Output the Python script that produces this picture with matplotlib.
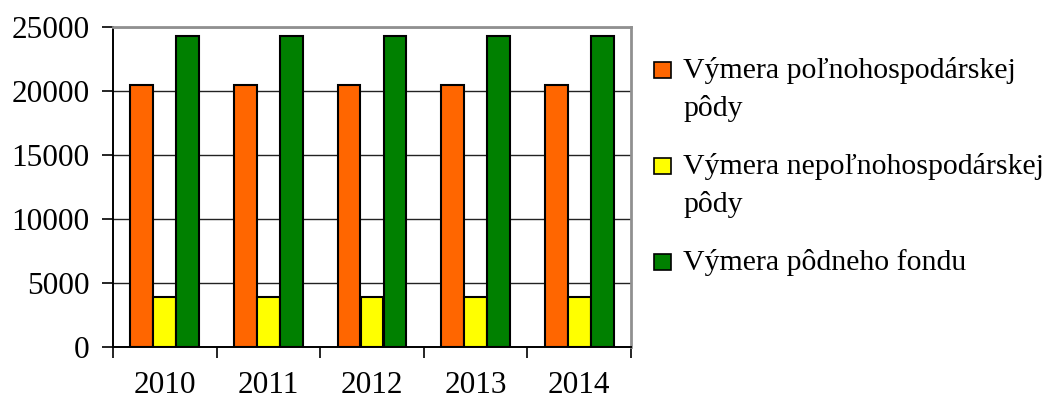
import matplotlib.pyplot as plt
from matplotlib.patches import Rectangle
import numpy as np

plt.rcParams['font.family'] = ['Liberation Serif', 'DejaVu Serif']

years = ["2010", "2011", "2012", "2013", "2014"]
series_names = [
    "Výmera poľnohospodárskej\npôdy",
    "Výmera nepoľnohospodárskej\npôdy",
    "Výmera pôdneho fondu",
]
agri = [20430, 20430, 20430, 20430, 20430]
non_agri = [3890, 3890, 3890, 3890, 3890]
total = [24320, 24320, 24320, 24320, 24320]
colors = ["#FF6600", "#FFFF00", "#008000"]

FS = 22.5
LEG_FS = 21.5

fig = plt.figure(figsize=(10.48, 4.05), dpi=100)
ax = fig.add_axes([113 / 1048, 58 / 405, 518 / 1048, 320 / 405])

x = np.arange(len(years))
width = 0.22
offsets = [-0.222, 0.0, 0.222]
for vals, off, col in zip([agri, non_agri, total], offsets, colors):
    ax.bar(x + off, vals, width, color=col, edgecolor="black", linewidth=1.5, zorder=3)

ax.set_xlim(-0.5, len(years) - 0.5)
ax.set_ylim(0, 25000)
ax.set_yticks(np.arange(0, 25001, 5000))
ax.yaxis.grid(True, color="#222222", linewidth=1.0, zorder=0)
ax.set_axisbelow(True)

# ticks at category boundaries, labels at centres
ax.set_xticks(np.arange(-0.5, len(years), 1.0))
ax.set_xticklabels([])
ax.set_xticks(x, minor=True)
ax.set_xticklabels(years, minor=True, fontsize=FS)
ax.tick_params(axis="x", which="major", length=8, width=1.2, direction="out", color="black")
ax.tick_params(axis="x", which="minor", length=0, pad=17)
ax.tick_params(axis="y", length=8, width=1.2, direction="out", pad=9, labelsize=FS)

for s in ["left", "bottom"]:
    ax.spines[s].set_color("black")
    ax.spines[s].set_linewidth(1.4)
for s in ["top", "right"]:
    ax.spines[s].set_color("#909090")
    ax.spines[s].set_linewidth(2.0)

# legend drawn by hand so the swatch sits beside the first line
H = 405.0
entry_baselines = [78, 174, 270]
line_gap = 38
for name, col, base in zip(series_names, colors, entry_baselines):
    fig.patches.append(Rectangle((654 / 1048, (H - base) / H), 17 / 1048, 16 / H,
                                 transform=fig.transFigure, facecolor=col,
                                 edgecolor="black", linewidth=1.2))
    for k, line in enumerate(name.split("\n")):
        fig.text(683 / 1048, (H - base - k * line_gap) / H, line,
                 fontsize=LEG_FS, ha="left", va="baseline")

fig.savefig("out.png", dpi=100)
